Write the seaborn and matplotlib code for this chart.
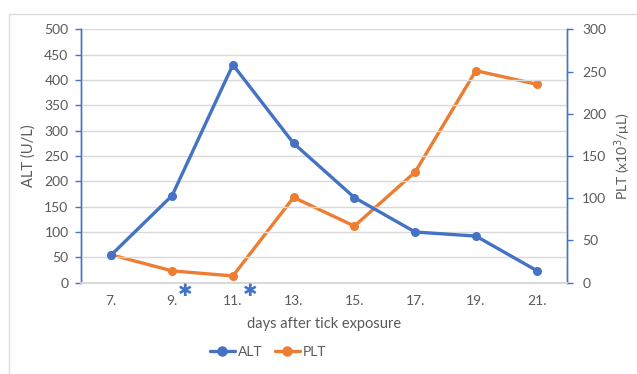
import matplotlib
matplotlib.use("Agg")
import matplotlib.pyplot as plt
import matplotlib.transforms as mtransforms
from matplotlib.lines import Line2D
from matplotlib.patches import Rectangle
import seaborn as sns
import pandas as pd

days = ["7.", "9.", "11.", "13.", "15.", "17.", "19.", "21."]
alt = [55, 172, 430, 275, 168, 100, 92, 24]
plt_counts = [33, 14, 8, 101, 67, 131, 251, 235]
marked_days = ["9.", "11."]

sns.set_theme(style="white")
plt.rcParams["font.family"] = ["Lato", "DejaVu Sans"]

BLUE = "#4472C4"
ORANGE = "#ED7D31"
TEXT = "#595959"
GRID = "#D9D9D9"

df = pd.DataFrame({"pos": range(len(days)), "day": days, "ALT": alt, "PLT": plt_counts})

fig = plt.figure(figsize=(6.37, 3.74), dpi=100)
fig.patch.set_facecolor("white")
fig.patches.append(Rectangle((9 / 637, -0.1), 1.2, 1 - 14 / 374 + 0.1,
                             transform=fig.transFigure, fill=False,
                             edgecolor="#DDDDDD", linewidth=1.0))

ax = fig.add_axes([81 / 637, 1 - 282.7 / 374, (567 - 81) / 637, (282.7 - 29.3) / 374])
ax2 = ax.twinx()

sns.lineplot(data=df, x="pos", y="ALT", ax=ax, color=BLUE, linewidth=2.4,
             marker="o", markersize=6.5, markeredgewidth=0, zorder=3)
sns.lineplot(data=df, x="pos", y="PLT", ax=ax2, color=ORANGE, linewidth=2.4,
             marker="o", markersize=6.5, markeredgewidth=0, zorder=3)

ax.set_xlim(-0.5, len(days) - 0.5)
ax.set_ylim(0, 500)
ax2.set_ylim(0, 300)
ax.set_yticks(range(0, 501, 50))
ax2.set_yticks(range(0, 301, 50))

# category boundaries carry the tick marks, labels sit at the centres
ax.set_xticks([i - 0.5 for i in range(len(days) + 1)])
ax.set_xticklabels([])
ax.set_xticks(range(len(days)), minor=True)
ax.set_xticklabels(days, minor=True)
ax.tick_params(axis="x", which="major", length=4, color=GRID, width=1)
ax.tick_params(axis="x", which="minor", length=0, pad=9, labelsize=10, labelcolor=TEXT)
ax.tick_params(axis="y", length=4, color=BLUE, width=1, labelsize=10, labelcolor=TEXT, pad=5)
ax2.tick_params(axis="y", length=4, color=BLUE, width=1, labelsize=10, labelcolor=TEXT, pad=7)

ax.grid(axis="y", color=GRID, linewidth=1)
ax.set_axisbelow(True)

for a in (ax, ax2):
    a.spines["top"].set_visible(False)
    a.spines["bottom"].set_color(GRID)
    a.spines["left"].set_color(BLUE)
    a.spines["right"].set_color(BLUE)
    a.spines["left"].set_linewidth(1)
    a.spines["right"].set_linewidth(1)
ax.set_zorder(ax2.get_zorder() + 1)
ax.patch.set_visible(False)

ax.set_xlabel("days after tick exposure", color=TEXT, fontsize=10.5, labelpad=7)
ax.set_ylabel("ALT (U/L)", color=TEXT, fontsize=10.5, labelpad=6)
ax2.set_ylabel("PLT (x10$^3$/μL)", color=TEXT, fontsize=10, labelpad=4)

# asterisks just after the labels of the flagged days
trans = mtransforms.blended_transform_factory(ax.transData, ax.transAxes)
for d in marked_days:
    i = days.index(d)
    ax.annotate("\u2731", xy=(i, -0.032), xycoords=trans,
                xytext=(3.0 * len(d) + 3.5, 0), textcoords="offset points",
                ha="center", va="center", color=BLUE, fontsize=12.5,
                family="DejaVu Sans", annotation_clip=False)

handles = [Line2D([0], [0], color=BLUE, lw=2.4, marker="o", markersize=6.5),
           Line2D([0], [0], color=ORANGE, lw=2.4, marker="o", markersize=6.5)]
fig.legend(handles, ["ALT", "PLT"], loc="center", bbox_to_anchor=(268 / 637, 1 - 352 / 374),
           ncol=2, frameon=False, fontsize=10, labelcolor=TEXT, handlelength=1.8,
           handletextpad=0.2, columnspacing=0.9)

fig.savefig("out.png", dpi=100, facecolor="white")
